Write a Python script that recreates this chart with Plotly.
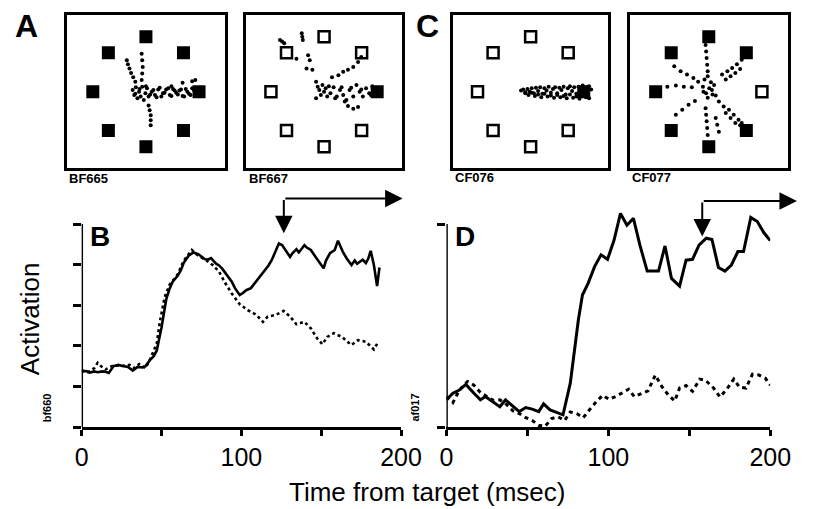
import plotly.graph_objects as go

W, H = 818, 509

# ---------------- data ----------------
# Panel B (bf660): time (ms) and activation (arbitrary units, ticks 0..5)
B_SOLID_T = [0, 3, 5, 8, 10, 13, 15, 17, 20, 23, 25, 27, 29, 32, 35, 38, 40, 43, 45, 47, 50, 53, 55, 57,
             60, 62, 64, 67, 70, 73, 75, 77, 79, 81, 84, 86, 88, 90, 92, 94, 96, 99, 101, 103, 106, 108,
             110, 112, 114, 117, 119, 121, 123.5, 125.5, 128, 130.5, 132, 134.5, 136, 139.5, 141, 143.5,
             146.5, 149, 151.5, 153, 155.5, 158.5, 160.5, 163.5, 166, 169, 171, 172.5, 174, 176, 178,
             179.5, 181, 183, 185, 186.5]
B_SOLID_Y = [1.36, 1.38, 1.34, 1.37, 1.35, 1.37, 1.36, 1.33, 1.50, 1.53, 1.51, 1.50, 1.48, 1.39, 1.48,
             1.47, 1.50, 1.66, 1.74, 1.88, 2.45, 3.15, 3.40, 3.58, 3.72, 3.85, 4.05, 4.22, 4.30, 4.26,
             4.20, 4.14, 4.12, 4.16, 4.03, 3.98, 3.90, 3.80, 3.70, 3.58, 3.42, 3.25, 3.30, 3.37, 3.42,
             3.52, 3.62, 3.72, 3.83, 3.98, 4.11, 4.28, 4.52, 4.48, 4.32, 4.19, 4.28, 4.38, 4.30, 4.48,
             4.42, 4.36, 4.19, 4.05, 3.91, 4.10, 4.28, 4.36, 4.59, 4.32, 4.15, 3.99, 4.10, 4.02, 4.07,
             4.12, 4.04, 4.15, 4.34, 3.99, 3.47, 3.93]
B_DOT_T = [0, 4, 8, 10, 12, 15, 20, 25, 30, 33, 36, 40, 43, 47, 49, 52, 55, 60, 64, 69, 73, 78, 82, 86,
           90, 94, 99, 104, 109.5, 113.5, 116.5, 121.5, 126.5, 130.5, 134.5, 139.5, 143.5, 147.5, 150.8,
           153.8, 157.8, 162.9, 168.9, 173, 178, 183, 185.5]
B_DOT_Y = [1.40, 1.35, 1.45, 1.58, 1.50, 1.42, 1.52, 1.50, 1.53, 1.45, 1.55, 1.45, 1.68, 2.05, 2.60,
           3.20, 3.50, 3.75, 4.10, 4.36, 4.22, 4.11, 3.99, 3.83, 3.54, 3.29, 3.02, 2.88, 2.76, 2.59,
           2.72, 2.76, 2.86, 2.72, 2.53, 2.59, 2.43, 2.18, 2.04, 2.22, 2.31, 2.22, 2.02, 2.14, 2.10,
           1.91, 2.08]

# Panel D (af017)
D_SOLID_T = [0, 4, 8, 12, 17, 21, 24, 29, 33, 36.5, 41, 45, 49, 53, 57, 60, 64, 68, 72, 76.5, 79.5,
             81.5, 84, 87.5, 91.5, 95.5, 99.5, 103.5, 107.5, 111.5, 115.5, 119.5, 124, 131, 135, 139,
             144, 148, 152, 156, 160.5, 164, 168, 172, 176, 180, 183.5, 188, 192, 196, 200]
D_SOLID_Y = [0.67, 0.83, 0.91, 1.05, 0.83, 0.67, 0.75, 0.62, 0.50, 0.67, 0.52, 0.38, 0.48, 0.44, 0.38,
             0.57, 0.42, 0.35, 0.30, 1.08, 2.06, 2.64, 3.25, 3.54, 3.95, 4.24, 4.13, 4.60, 5.26, 4.97,
             5.14, 4.48, 3.84, 3.84, 4.46, 3.66, 3.47, 4.11, 4.13, 4.48, 4.65, 4.62, 3.93, 3.84, 3.99,
             4.32, 4.32, 5.16, 5.06, 4.79, 4.59]
D_DOT_T = [0, 4, 8, 13, 17, 21, 25, 29, 33, 37, 41, 45, 49, 53, 57, 61, 65, 69, 73, 76.5, 80.5, 84.5,
           88.5, 92.5, 96.5, 100.5, 104.5, 108.5, 112.5, 116, 120.5, 124.5, 129, 133, 137, 141, 144,
           148, 152, 156.5, 160, 165, 169, 173, 177.5, 181, 185, 189, 193, 197, 200]
D_DOT_Y = [0.75, 0.60, 0.91, 1.12, 1.03, 0.85, 0.75, 0.66, 0.67, 0.56, 0.40, 0.33, 0.23, 0.16, 0.04,
           0.02, 0.21, 0.25, 0.16, 0.37, 0.33, 0.23, 0.43, 0.62, 0.78, 0.68, 0.75, 0.85, 0.93, 0.75,
           0.83, 0.89, 1.28, 1.00, 0.79, 0.64, 0.96, 1.02, 0.88, 1.18, 1.15, 0.96, 0.74, 0.92, 1.18,
           0.98, 0.96, 1.30, 1.28, 1.20, 1.03]

# Saccade markers (ms) and arrow heights (activation units)
B_SACCADE_T, B_ARROW_TOP, B_ARROW_TIP, B_ARROW_END = 126.6, 5.63, 4.77, 201
D_SACCADE_T, D_ARROW_TOP, D_ARROW_TIP, D_ARROW_END = 158, 5.57, 4.69, 216.5

X_TICKS = [0, 50, 100, 150, 200]
X_TICK_TEXT = ["0", "", "100", "", "200"]
B_Y_TICKS = [0, 1, 2, 3, 4, 5]
D_Y_TICKS = [0, 5]

# Insets: 8 target locations (unit ring), fill state, and eye-position samples
TARGET_X = [1, 0.707, 0, -0.707, -1, -0.707, 0, 0.707]
TARGET_Y = [0, 0.707, 1, 0.707, 0, -0.707, -1, -0.707]
FILLED = {
    "BF665": [1, 1, 1, 1, 1, 1, 1, 1],
    "BF667": [1, 0, 0, 0, 0, 0, 0, 0],
    "CF076": [1, 0, 0, 0, 0, 0, 0, 0],
    "CF077": [0, 1, 1, 1, 1, 1, 1, 1],
}

BF665_X = [-0.25, -0.22, -0.19, -0.16, -0.13, -0.10, -0.07, -0.04, -0.01, 0.02, 0.05, 0.11, 0.17, 0.23,
           0.29, 0.35, 0.42, 0.48, 0.54, 0.60, 0.66, 0.72, 0.78, 0.84, 0.90, 0.96, 0.99, -0.20, -0.12,
           0.00, 0.08, 0.14, 0.20, 0.26, 0.32, 0.38, 0.45, 0.51, 0.57, 0.63, 0.69, 0.75, 0.81, 0.87,
           0.93, -0.08, -0.07, -0.06, -0.07, -0.08, -0.36, -0.34, -0.31, -0.28, -0.24, -0.20, 0.05,
           0.07, 0.09, 0.09, 0.09, 0.93, 0.87, 0.69, 0.48]
BF665_Y = [0.03, -0.06, 0.08, -0.12, 0.00, -0.09, 0.09, -0.15, -0.03, 0.06, -0.09, 0.00, -0.06, 0.04,
           -0.09, -0.02, 0.06, -0.08, 0.02, -0.05, 0.04, -0.09, 0.00, -0.06, 0.03, -0.03, 0.02, -0.04,
           0.05, 0.10, -0.05, 0.03, -0.10, 0.07, -0.03, 0.04, -0.06, 0.05, -0.02, 0.02, -0.08, 0.05,
           -0.04, 0.06, -0.01, 0.69, 0.57, 0.45, 0.33, 0.21, 0.57, 0.50, 0.42, 0.34, 0.26, 0.18, -0.25,
           -0.34, -0.43, -0.52, -0.61, 0.21, 0.19, 0.16, 0.10]

BF667_X = [-0.83, -0.79, -0.75, -0.42, -0.41, -0.40, -0.30, -0.27, -0.52, -0.33, -0.22, 0.15, 0.27,
           0.36, 0.45, 0.55, 0.64, 0.70, -0.15, -0.12, -0.09, -0.06, -0.03, 0.00, 0.03, 0.06, 0.12,
           0.18, 0.24, 0.30, 0.36, 0.42, 0.48, 0.55, 0.61, 0.67, 0.73, 0.79, 0.85, 0.91, 0.94, 0.45,
           0.55, 0.64, 0.39, -0.15, 0.09, 0.21, 0.33, 0.51, 0.70, 0.88]
BF667_Y = [0.94, 0.91, 0.88, 1.06, 1.00, 0.94, 0.66, 0.57, 0.60, 0.42, 0.40, 0.26, 0.30, 0.36, 0.40,
           0.45, 0.54, 0.63, 0.18, 0.09, 0.03, -0.06, 0.12, 0.00, 0.06, -0.09, -0.03, 0.08, -0.09, 0.03,
           -0.06, -0.15, 0.03, -0.09, 0.12, 0.00, -0.09, 0.06, -0.03, 0.10, 0.00, -0.26, -0.31, -0.28,
           -0.18, -0.12, 0.10, -0.12, 0.08, 0.07, 0.04, -0.06]

CF076_X = [-0.18, -0.14, -0.10, -0.06, -0.02, 0.02, 0.06, 0.10, 0.14, 0.18, 0.22, 0.26, 0.30, 0.34,
           0.38, 0.42, 0.46, 0.50, 0.54, 0.58, 0.62, 0.66, 0.70, 0.74, 0.78, 0.82, 0.86, 0.90, 0.94,
           0.98, 1.02, 1.06, 1.10, 1.14, -0.10, -0.04, 0.02, 0.08, 0.14, 0.20, 0.26, 0.32, 0.38, 0.44,
           0.50, 0.56, 0.62, 0.68, 0.74, 0.80, 0.86, 0.92, 0.98, 1.04, 1.10]
CF076_Y = [0.02, 0.04, -0.01, 0.05, 0.00, 0.06, -0.03, 0.07, 0.01, 0.08, -0.04, 0.06, 0.02, 0.09,
           -0.02, 0.05, 0.08, -0.03, 0.07, 0.03, 0.09, -0.05, 0.06, 0.10, 0.01, 0.08, -0.04, 0.09,
           0.05, 0.11, -0.02, 0.08, 0.10, 0.04, -0.03, -0.06, -0.02, -0.08, -0.05, -0.10, -0.04,
           -0.09, -0.07, -0.11, -0.06, -0.10, -0.08, -0.12, -0.05, -0.11, -0.09, -0.13, -0.07, -0.10,
           -0.12]

CF077_X = [-0.08, -0.02, 0.04, -0.11, 0.01, 0.10, -0.05, 0.07, -0.02, 0.13, -0.10, 0.06, -0.06,
           -0.05, -0.04, -0.03, -0.02, 0.25, 0.35, 0.44, 0.53, 0.62, 0.32, 0.41, 0.50, 0.59, -0.65,
           -0.53, -0.41, -0.29, -0.20, -0.78, -0.62, -0.47, -0.32, -0.62, -0.50, -0.38, -0.26, -0.06,
           -0.05, -0.04, -0.03, -0.02, 0.13, 0.16, 0.19, 0.19, 0.28, 0.38, 0.47, 0.56, 0.62, 0.32,
           0.41, 0.50, 0.59]
CF077_Y = [0.22, 0.28, 0.17, 0.09, 0.06, 0.12, -0.03, -0.05, -0.11, -0.07, 0.00, 0.03, 0.85, 0.73,
           0.61, 0.49, 0.37, 0.31, 0.37, 0.43, 0.50, 0.58, 0.22, 0.28, 0.34, 0.41, 0.46, 0.37, 0.31,
           0.25, 0.18, 0.09, 0.11, 0.09, 0.08, -0.42, -0.33, -0.24, -0.17, -0.30, -0.42, -0.54, -0.66,
           -0.79, -0.48, -0.60, -0.73, -0.18, -0.27, -0.33, -0.42, -0.51, -0.57, -0.39, -0.48, -0.57,
           -0.61]

INSETS = [("BF665", BF665_X, BF665_Y), ("BF667", BF667_X, BF667_Y),
          ("CF076", CF076_X, CF076_Y), ("CF077", CF077_X, CF077_Y)]

# ---------------- layout helpers (pixel -> paper) ----------------
def px(x):
    return x / W

def py(y):
    return 1 - y / H

FONT = "Arial, Liberation Sans, sans-serif"
BLACK = "#000000"

fig = go.Figure()

# main panels
fig.add_trace(go.Scatter(x=B_SOLID_T, y=B_SOLID_Y, mode="lines", line=dict(color=BLACK, width=2.6),
                         xaxis="x", yaxis="y", showlegend=False))
fig.add_trace(go.Scatter(x=B_DOT_T, y=B_DOT_Y, mode="lines",
                         line=dict(color=BLACK, width=2.6, dash="3px,3px"),
                         xaxis="x", yaxis="y", showlegend=False))
fig.add_trace(go.Scatter(x=D_SOLID_T, y=D_SOLID_Y, mode="lines", line=dict(color=BLACK, width=3),
                         xaxis="x2", yaxis="y2", showlegend=False))
fig.add_trace(go.Scatter(x=D_DOT_T, y=D_DOT_Y, mode="lines",
                         line=dict(color=BLACK, width=3, dash="4px,4px"),
                         xaxis="x2", yaxis="y2", showlegend=False))

# insets
for i, (name, dx, dy) in enumerate(INSETS):
    n = i + 3
    fx = [x for x, f in zip(TARGET_X, FILLED[name]) if f]
    fy = [y for y, f in zip(TARGET_Y, FILLED[name]) if f]
    ox = [x for x, f in zip(TARGET_X, FILLED[name]) if not f]
    oy = [y for y, f in zip(TARGET_Y, FILLED[name]) if not f]
    fig.add_trace(go.Scatter(x=ox, y=oy, mode="markers", xaxis=f"x{n}", yaxis=f"y{n}",
                             marker=dict(symbol="square-open", size=11, color=BLACK,
                                         line=dict(width=2.5, color=BLACK)), showlegend=False))
    fig.add_trace(go.Scatter(x=fx, y=fy, mode="markers", xaxis=f"x{n}", yaxis=f"y{n}",
                             marker=dict(symbol="square", size=13, color=BLACK), showlegend=False))
    fig.add_trace(go.Scatter(x=dx, y=dy, mode="markers", xaxis=f"x{n}", yaxis=f"y{n}",
                             marker=dict(symbol="circle", size=4, color=BLACK), showlegend=False))

# axes
Y_DOM = [py(427), py(195.6)]
common_x = dict(range=[0, 200], tickvals=X_TICKS, ticktext=X_TICK_TEXT, ticks="outside",
                ticklen=6, tickwidth=2.5, tickcolor=BLACK, showline=True, linewidth=2.8,
                linecolor=BLACK, showgrid=False, zeroline=False,
                tickfont=dict(family=FONT, size=25, color=BLACK))
common_y = dict(range=[0, 5.7], ticks="outside", ticklen=8, tickwidth=2.5, tickcolor=BLACK,
                showticklabels=False, showline=False, showgrid=False, zeroline=False, domain=Y_DOM)

layout = dict(
    width=W, height=H, margin=dict(l=0, r=0, t=0, b=0),
    paper_bgcolor="white", plot_bgcolor="rgba(0,0,0,0)", showlegend=False,
    xaxis=dict(domain=[px(77.3), px(408)], anchor="y", **common_x),
    yaxis=dict(anchor="x", tickvals=B_Y_TICKS, **common_y),
    xaxis2=dict(domain=[px(455), px(790.3)], anchor="y2", **common_x),
    yaxis2=dict(anchor="x2", tickvals=D_Y_TICKS, **common_y),
)
BOXES = [(61.7, 226.0), (247.3, 409.3), (461.7, 622.7), (645.0, 808.3)]
for i, (l, r) in enumerate(BOXES):
    n = i + 3
    half_w = (r - l) / 2 / 55.0
    half_h = (168.3 - 15) / 2 / 55.0
    layout[f"xaxis{n}"] = dict(domain=[px(l), px(r)], range=[-half_w, half_w], anchor=f"y{n}",
                               showline=True, mirror=True, linewidth=2.8, linecolor=BLACK,
                               showticklabels=False, ticks="", showgrid=False, zeroline=False)
    layout[f"yaxis{n}"] = dict(domain=[py(168.3), py(15)], range=[-half_h, half_h], anchor=f"x{n}",
                               showline=True, mirror=True, linewidth=2.8, linecolor=BLACK,
                               showticklabels=False, ticks="", showgrid=False, zeroline=False)
fig.update_layout(**layout)

# vertical axis lines of B and D, ending at the top tick
fig.add_shape(type="line", xref="x", yref="y", x0=0, x1=0, y0=0, y1=B_Y_TICKS[-1],
              line=dict(color=BLACK, width=2.8))
fig.add_shape(type="line", xref="x2", yref="y2", x0=0, x1=0, y0=0, y1=D_Y_TICKS[-1],
              line=dict(color=BLACK, width=2.8))

# saccade arrows
for xr, yr, t, top, tip, end in [("x", "y", B_SACCADE_T, B_ARROW_TOP, B_ARROW_TIP, B_ARROW_END),
                                 ("x2", "y2", D_SACCADE_T, D_ARROW_TOP, D_ARROW_TIP, D_ARROW_END)]:
    fig.add_annotation(x=t, y=tip, ax=t, ay=top, xref=xr, yref=yr, axref=xr, ayref=yr, text="",
                       showarrow=True, arrowhead=2, arrowsize=1.75, arrowwidth=2, arrowcolor=BLACK)
    fig.add_annotation(x=end, y=top, ax=t, ay=top, xref=xr, yref=yr, axref=xr, ayref=yr, text="",
                       showarrow=True, arrowhead=2, arrowsize=1.75, arrowwidth=2, arrowcolor=BLACK)

def label(text, x, y, size, bold=False, angle=0, xanchor="center"):
    fig.add_annotation(x=px(x), y=py(y), xref="paper", yref="paper", text=f"<b>{text}</b>" if bold else text,
                       showarrow=False, xanchor=xanchor, yanchor="middle", textangle=angle,
                       font=dict(family=FONT, size=size, color=BLACK))

label("A", 20, 26, 32, bold=True)
label("C", 435.5, 26, 32, bold=True)
label("B", 96, 236, 28, bold=True)
label("D", 474, 236, 28, bold=True)
label("BF665", 62, 178.5, 13, bold=True, xanchor="left")
label("BF667", 248, 178.5, 13, bold=True, xanchor="left")
label("CF076", 461.5, 177, 13, bold=True, xanchor="left")
label("CF077", 645.5, 177, 13, bold=True, xanchor="left")
label("Activation", 24, 319, 26, angle=-90)
label("bf660", 41.7, 408, 11, bold=True, angle=-90)
label("af017", 422, 408, 11, bold=True, angle=-90)
label("Time from target (msec)", 435, 492, 26)

fig.write_html("out.html", config={"displayModeBar": False},
               post_script="document.body.style.margin='0';document.body.style.overflow='hidden';")
